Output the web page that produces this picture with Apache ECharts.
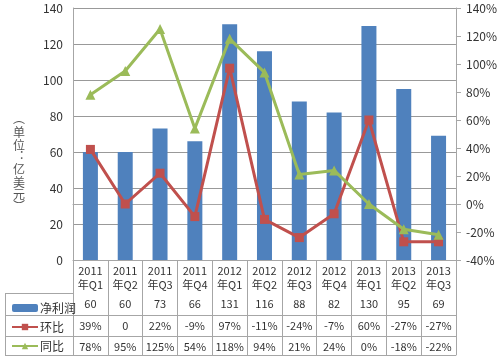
<!DOCTYPE html>
<html><head><meta charset="utf-8">
<script src="https://cdn.jsdelivr.net/npm/echarts@6/dist/echarts.min.js"></script>
<style>html,body{margin:0;padding:0;background:#fff}#c{width:500px;height:360px}</style>
</head><body><div id="c"></div>
<script>
var categories = ['2011年Q1','2011年Q2','2011年Q3','2011年Q4','2012年Q1','2012年Q2','2012年Q3','2012年Q4','2013年Q1','2013年Q2','2013年Q3'];
var netProfit = [60,60,73,66,131,116,88,82,130,95,69];
var qoq = [39,0,22,-9,97,-11,-24,-7,60,-27,-27];
var yoy = [78,95,125,54,118,94,21,24,0,-18,-22];
var leftTicks = [0,140,20];
var rightTicks = [-40,140,20];
var unitLabel = ['︵','单','位','︓','亿','美','元','︶'];

var FONT = '"Noto Sans CJK SC", sans-serif';
var GRID = '#A6A6A6';
var TXT = '#333';

var qoqText = qoq.map(function(v){ return v === 0 ? '0' : v + '%'; });
var yoyText = yoy.map(function(v){ return v + '%'; });

function rowAxis(offset, labels){
  return {
    type:'category', data:categories, position:'bottom', offset:offset, gridIndex:0,
    axisLine:{show:true, lineStyle:{color:GRID, width:1}},
    axisTick:{show:false},
    axisLabel: labels ? {show:true, interval:0, margin:5, fontSize:11, color:TXT, fontFamily:FONT,
      formatter:function(v, i){ return labels[i]; }} : {show:false},
    splitLine:{show:false}
  };
}

var unitTop = [112, 126, 139, 150, 163, 176, 188, 200];
var graphics = unitLabel.map(function(ch, i){
  return {type:'text', x:19, y:unitTop[i], style:{text:ch, fill:'#555', font:'12px '+FONT, align:'center', verticalAlign:'top'}};
});
graphics = graphics.concat([
  {type:'line', shape:{x1:5, y1:293.5, x2:73, y2:293.5}, style:{stroke:GRID}},
  {type:'line', shape:{x1:5, y1:315.5, x2:73, y2:315.5}, style:{stroke:GRID}},
  {type:'line', shape:{x1:5, y1:336.5, x2:73, y2:336.5}, style:{stroke:GRID}},
  {type:'line', shape:{x1:5, y1:355.5, x2:73, y2:355.5}, style:{stroke:GRID}},
  {type:'line', shape:{x1:5.5, y1:293, x2:5.5, y2:356}, style:{stroke:GRID}}
]);

var chart = echarts.init(document.getElementById('c'));
chart.setOption({
  animation:false,
  textStyle:{fontFamily:FONT},
  grid:{left:73, right:39, top:8, bottom:100},
  legend:{
    orient:'vertical', left:6, top:297, itemGap:7, itemWidth:26, itemHeight:8,
    textStyle:{fontSize:12, color:TXT, fontFamily:FONT, padding:[0,0,0,-3]},
    data:['净利润','环比','同比']
  },
  xAxis:[
    {type:'category', data:categories, position:'bottom', gridIndex:0,
     axisLine:{show:true, lineStyle:{color:GRID}},
     axisTick:{show:true, length:95, interval:0, lineStyle:{color:GRID}},
     axisLabel:{interval:0, margin:4, fontSize:11, lineHeight:14, color:TXT, fontFamily:FONT,
       formatter:function(v){ return v.replace('年','\n年'); }}},
    rowAxis(33, netProfit.map(String)),
    rowAxis(55, qoqText),
    rowAxis(76, yoyText),
    rowAxis(95, null)
  ],
  yAxis:[
    {type:'value', min:leftTicks[0], max:leftTicks[1], interval:leftTicks[2],
     axisLine:{show:true, lineStyle:{color:GRID}},
     axisTick:{show:false},
     axisLabel:{margin:10, fontSize:12, color:TXT, fontFamily:FONT},
     splitLine:{show:true, lineStyle:{color:'#999'}}},
    {type:'value', min:rightTicks[0], max:rightTicks[1], interval:rightTicks[2], position:'right',
     axisLine:{show:true, lineStyle:{color:GRID}},
     axisTick:{show:true, length:5, lineStyle:{color:GRID}},
     axisLabel:{margin:10, fontSize:12, color:TXT, fontFamily:FONT, formatter:'{value}%'},
     splitLine:{show:false}}
  ],
  series:[
    {name:'净利润', type:'bar', data:netProfit, yAxisIndex:0, barWidth:15,
     itemStyle:{color:'#4F81BD'}},
    {name:'环比', type:'line', data:qoq, yAxisIndex:1, symbol:'rect', symbolSize:9,
     lineStyle:{color:'#C0504D', width:3}, itemStyle:{color:'#C0504D'}},
    {name:'同比', type:'line', data:yoy, yAxisIndex:1, symbol:'triangle', symbolSize:10,
     lineStyle:{color:'#9BBB59', width:3}, itemStyle:{color:'#9BBB59'}}
  ],
  graphic:graphics
});
</script></body></html>
